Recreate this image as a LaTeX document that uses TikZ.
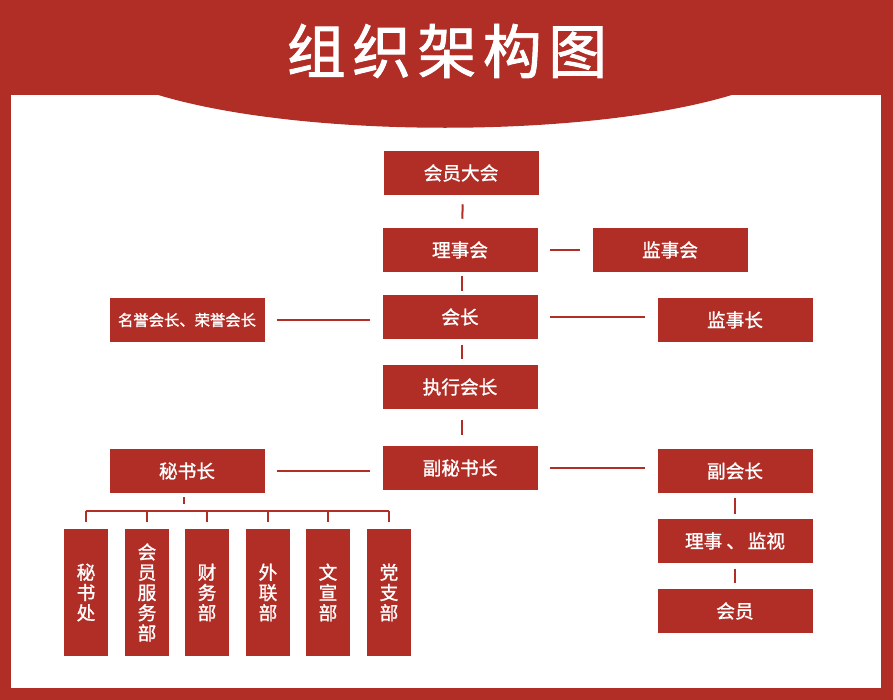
\documentclass[tikz,border=0pt]{standalone}
\usepackage{fontspec}
\newfontfamily\cjk[FakeBold=1.2]{Noto Sans CJK SC}
\newfontfamily\titlefont[FakeBold=1.5]{Noto Sans CJK SC}
\definecolor{orgred}{RGB}{177,46,39}

\begin{document}
\begin{tikzpicture}[x=0.75pt,y=0.75pt,yscale=-1,xscale=1,
  box/.style={fill=orgred,text=white,minimum width=116.25pt,minimum height=33pt,inner sep=0pt,font=\cjk\fontsize{14pt}{15pt}\selectfont},
  smallbox/.style={box,font=\cjk\fontsize{11.5pt}{13pt}\selectfont},
  tallbox/.style={box,minimum width=33pt,minimum height=95.25pt,align=center,font=\cjk\fontsize{14pt}{15.2pt}\selectfont},
  link/.style={draw=orgred,line width=1.5pt},
  hlink/.style={link,shorten <=9pt,shorten >=9pt},
  vlink/.style={link,shorten <=#1,shorten >=#1}]
\useasboundingbox (0,0) rectangle (893,700);

%Shape: Frame
\fill [orgred] (0,0) rectangle (893,700) ;
\fill [white] (11,95) rectangle (881,688) ;
%Shape: Header curve
\fill [orgred] (155,94) .. controls (300,139) and (590,139) .. (735,94) -- cycle ;

% Text Node
\node [text=white,font=\titlefont\fontsize{44pt}{48pt}\selectfont] (title) at (447,51) {组\kern5pt 织\kern5pt 架\kern5pt 构\kern5pt 图};

% Boxes
\node [box] (hydh) at (461,173) {会员大会};
\node [box] (lsh) at (460,250) {理事会};
\node [box] (jsh) at (670,250) {监事会};
\node [box] (hz) at (460,317) {会长};
\node [smallbox] (myhz) at (187,320) {名誉会长、荣誉会长};
\node [box] (jsz) at (735,320) {监事长};
\node [box] (zxhz) at (460,387) {执行会长};
\node [box] (fmsz) at (460,468) {副秘书长};
\node [box] (msz) at (187,471) {秘书长};
\node [box] (fhz) at (735,471) {副会长};
\node [box] (lsjs) at (735,541) {理事\hspace{3pt}、\hspace{2pt}监视};
\node [box] (hy) at (735,611) {会员};

% Departments
\node [tallbox] (b1) at (86,592.5) {秘\\书\\处};
\node [tallbox] (b2) at (147,592.5) {会\\员\\服\\务\\部};
\node [tallbox] (b3) at (207,592.5) {财\\务\\部};
\node [tallbox] (b4) at (268,592.5) {外\\联\\部};
\node [tallbox] (b5) at (328,592.5) {文\\宣\\部};
\node [tallbox] (b6) at (389,592.5) {党\\支\\部};

%Straight Lines
\draw [vlink=6.75pt] ([xshift=1.5]hydh.south) -- ([xshift=1.5]lsh.north) ;
\draw [vlink=3pt] ([xshift=1.5]lsh.south) -- ([xshift=1.5]hz.north) ;
\draw [vlink=4pt] ([xshift=1.5]hz.south) -- ([xshift=1.5]zxhz.north) ;
\draw [vlink=8pt] ([xshift=1.5]zxhz.south) -- ([xshift=1.5]fmsz.north) ;
\draw [vlink=3.5pt] (fhz) -- (lsjs) ;
\draw [vlink=4pt] (lsjs) -- (hy) ;
\draw [hlink] (lsh) -- (jsh) ;
\draw [hlink] (myhz.east) -- (hz.west |- myhz.east) ;
\draw [hlink] (hz.east) -- (jsz.west |- hz.east) ;
\draw [hlink] (msz.east) -- (fmsz.west |- msz.east) ;
\draw [hlink] (fmsz.east) -- (fhz.west |- fmsz.east) ;

%Straight Lines: tree
\coordinate (bar) at (184,511) ;
\draw [link,shorten <=3pt] (msz.south -| bar) -- ([yshift=-5]bar) ;
\draw [link] (b1 |- bar) -- (b6 |- bar) ;
\foreach \i in {1,...,6}
  \draw [link,shorten <=5.25pt] (b\i.north) -- (b\i |- bar) ;

\end{tikzpicture}
\end{document}
